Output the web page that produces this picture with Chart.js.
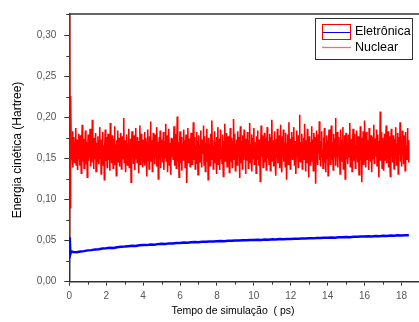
<!DOCTYPE html>
<html>
<head>
<meta charset="utf-8">
<script src="https://cdn.jsdelivr.net/npm/chart.js@4.4.1/dist/chart.umd.min.js"></script>
<style>
  html, body { margin: 0; padding: 0; background: #fff; }
  #wrap { width: 419px; height: 322px; position: relative; }
</style>
</head>
<body>
<div id="wrap"><canvas id="energyChart"></canvas></div>
<script>
// Nuclear kinetic energy: start-up transient, then samples every 0.025 ps from 0.1 ps
const nuclearStartT = [0, 0.01, 0.04, 0.07];
const nuclearStartE = [0.054, 0.36, 0.090, 0.226];
const nuclearT0 = 0.1;
const nuclearDt = 0.025;
const nuclearE = [
  0.171,0.148,0.162,0.183,0.139,0.157,0.176,0.151,0.144,0.169,0.187,0.142,0.160,0.173,0.136,0.158,0.180,0.149,0.165,0.141,
  0.178,0.155,0.132,0.168,0.191,0.146,0.159,0.174,0.138,0.163,0.150,0.184,0.143,0.170,0.156,0.127,0.166,0.179,0.147,0.161,
  0.152,0.186,0.140,0.172,0.158,0.145,0.197,0.153,0.167,0.137,0.175,0.149,0.162,0.181,0.134,0.169,0.155,0.146,0.177,0.160,
  0.143,0.170,0.188,0.150,0.164,0.131,0.173,0.157,0.182,0.141,0.166,0.154,0.124,0.168,0.185,0.147,0.159,0.176,0.139,0.163,
  0.180,0.148,0.156,0.171,0.135,0.193,0.152,0.165,0.144,0.178,0.161,0.138,0.174,0.157,0.189,0.142,0.167,0.150,0.129,0.172,
  0.158,0.184,0.146,0.163,0.175,0.140,0.169,0.154,0.181,0.137,0.160,0.177,0.149,0.166,0.199,0.145,0.156,0.172,0.133,0.164,
  0.151,0.179,0.142,0.168,0.157,0.186,0.139,0.162,0.148,0.174,0.121,0.165,0.183,0.153,0.170,0.144,0.159,0.178,0.136,0.167,
  0.187,0.150,0.161,0.145,0.176,0.158,0.132,0.171,0.164,0.190,0.143,0.155,0.180,0.147,0.168,0.139,0.173,0.160,0.152,0.182,
  0.141,0.166,0.175,0.154,0.128,0.169,0.185,0.148,0.162,0.137,0.177,0.157,0.195,0.146,0.163,0.172,0.134,0.159,0.181,0.150,
  0.168,0.143,0.179,0.156,0.165,0.140,0.188,0.153,0.170,0.125,0.161,0.176,0.149,0.184,0.138,0.167,0.155,0.173,0.145,0.160,
  0.182,0.136,0.164,0.171,0.151,0.192,0.147,0.158,0.178,0.133,0.166,0.154,0.186,0.142,0.169,0.160,0.130,0.175,0.152,0.163,
  0.174,0.149,0.157,0.189,0.141,0.167,0.155,0.180,0.138,0.162,0.201,0.146,0.170,0.153,0.127,0.165,0.183,0.144,0.158,0.176,
  0.135,0.169,0.160,0.148,0.185,0.156,0.172,0.139,0.163,0.179,0.150,0.120,0.168,0.187,0.145,0.161,0.174,0.152,0.140,0.166,
  0.181,0.157,0.143,0.170,0.164,0.194,0.148,0.159,0.176,0.137,0.165,0.153,0.182,0.144,0.171,0.130,0.162,0.178,0.150,0.167,
  0.146,0.184,0.158,0.139,0.173,0.155,0.166,0.190,0.142,0.160,0.177,0.134,0.169,0.152,0.186,0.147,0.163,0.124,0.175,0.156,
  0.168,0.141,0.180,0.161,0.149,0.196,0.154,0.172,0.137,0.165,0.158,0.183,0.145,0.170,0.151,0.131,0.176,0.162,0.188,0.143,
  0.159,0.174,0.136,0.167,0.185,0.150,0.163,0.144,0.179,0.156,0.128,0.171,0.160,0.192,0.147,0.166,0.153,0.181,0.140,0.164,
  0.177,0.152,0.169,0.133,0.161,0.187,0.146,0.175,0.158,0.139,0.172,0.165,0.198,0.149,0.162,0.180,0.135,0.168,0.155,0.173,
  0.142,0.183,0.160,0.151,0.176,0.126,0.166,0.189,0.144,0.171,0.157,0.137,0.178,0.163,0.148,0.185,0.154,0.169,0.131,0.174,
  0.160,0.147,0.182,0.165,0.138,0.172,0.156,0.193,0.145,0.168,0.152,0.179,0.134,0.161,0.175,0.150,0.187,0.143,0.164,0.157,
  0.170,0.132,0.177,0.159,0.184,0.148,0.166,0.141,0.173,0.155,0.122,0.167,0.190,0.152,0.163,0.178,0.139,0.169,0.158,0.181,
  0.145,0.164,0.175,0.136,0.160,0.188,0.150,0.171,0.157,0.143,0.180,0.162,0.135,0.176,0.154,0.197,0.147,0.165,0.172,0.140,
  0.166,0.183,0.151,0.158,0.129,0.174,0.162,0.186,0.144,0.169,0.155,0.178,0.138,0.165,0.191,0.149,0.160,0.133,0.177,0.153,
  0.185,0.146,0.163,0.170,0.140,0.181,0.157,0.124,0.168,0.152,0.179,0.143,0.194,0.159,0.166,0.137,0.174,0.150,0.182,0.161,
  0.148,0.176,0.155,0.188,0.142,0.164,0.171,0.131,0.160,0.184,0.153,0.167,0.139,0.178,0.147,0.203,0.156,0.170,0.145,0.163,
  0.180,0.137,0.168,0.154,0.175,0.149,0.192,0.158,0.134,0.172,0.161,0.144,0.186,0.152,0.165,0.127,0.177,0.159,0.170,0.141,
  0.162,0.189,0.146,0.173,0.156,0.135,0.181,0.164,0.150,0.176,0.119,0.167,0.184,0.153,0.160,0.142,0.179,0.157,0.195,0.148,
  0.171,0.140,0.166,0.183,0.152,0.161,0.138,0.175,0.158,0.187,0.145,0.169,0.133,0.164,0.178,0.150,0.172,0.129,0.167,0.185,
  0.154,0.177,0.143,0.163,0.190,0.148,0.170,0.156,0.136,0.180,0.162,0.151,0.174,0.199,0.141,0.166,0.157,0.182,0.139,0.168,
  0.176,0.153,0.160,0.131,0.185,0.164,0.146,0.172,0.158,0.188,0.137,0.167,0.155,0.178,0.125,0.163,0.181,0.149,0.170,0.157,
  0.143,0.179,0.165,0.152,0.193,0.140,0.169,0.159,0.174,0.134,0.162,0.186,0.147,0.171,0.155,0.180,0.138,0.166,0.151,0.184,
  0.160,0.145,0.177,0.168,0.130,0.173,0.156,0.189,0.148,0.164,0.121,0.175,0.158,0.183,0.142,0.169,0.196,0.153,0.165,0.139,
  0.182,0.157,0.149,0.172,0.163,0.136,0.187,0.154,0.170,0.146,0.178,0.161,0.133,0.176,0.167,0.150,0.191,0.144,0.159,0.174,
  0.152,0.168,0.185,0.141,0.162,0.179,0.155,0.127,0.171,0.160,0.207,0.147,0.166,0.182,0.138,0.175,0.157,0.164,0.135,0.180,
  0.165,0.148,0.173,0.190,0.144,0.169,0.156,0.183,0.139,0.161,0.177,0.151,0.128,0.170,0.186,0.153,0.167,0.145,0.178,0.158,
  0.137,0.174,0.163,0.150,0.188,0.142,0.168,0.159,0.181,0.131,0.166,0.176,0.154,0.194,0.146,0.172,0.160,0.140,0.184,0.156,
  0.170,0.143,0.178,0.161,0.135,0.182,0.157,0.166,0.149,0.187,0.153,0.172,0.145
];

// Electronic kinetic energy: start-up, then samples every 0.2 ps from 0.2 ps
const eletronicaStartT = [0, 0.03, 0.06, 0.1];
const eletronicaStartE = [0.054, 0.049, 0.034, 0.037];
const eletronicaT0 = 0.2;
const eletronicaDt = 0.2;
const eletronicaE = [
  0.0362,0.0357,0.0366,0.0372,0.0381,0.0384,0.0393,0.0394,0.0404,0.0406,
  0.0413,0.0410,0.0420,0.0424,0.0427,0.0431,0.0436,0.0434,0.0443,0.0446,
  0.0445,0.0452,0.0450,0.0457,0.0461,0.0459,0.0466,0.0464,0.0471,0.0472,
  0.0476,0.0473,0.0479,0.0482,0.0480,0.0486,0.0485,0.0490,0.0488,0.0493,
  0.0496,0.0493,0.0499,0.0497,0.0502,0.0500,0.0504,0.0503,0.0508,0.0506,
  0.0510,0.0508,0.0513,0.0511,0.0515,0.0513,0.0518,0.0516,0.0520,0.0519,
  0.0523,0.0521,0.0526,0.0525,0.0529,0.0527,0.0532,0.0531,0.0535,0.0534,
  0.0538,0.0536,0.0541,0.0540,0.0544,0.0542,0.0547,0.0546,0.0550,0.0549,
  0.0553,0.0551,0.0556,0.0554,0.0558,0.0557,0.0561,0.0559,0.0564,0.0563,
  0.0566,0.0565
];

const seriesNames = ['Eletrônica', 'Nuclear'];
const xTitle = 'Tempo de simulação  ( ps)';
const yTitle = 'Energia cinética (Hartree)';
const xTicksMajor = [0, 2, 4, 6, 8, 10, 12, 14, 16, 18];

function buildPoints(startT, startE, t0, dt, values) {
  const pts = startT.map((t, i) => ({ x: t, y: startE[i] }));
  values.forEach((v, i) => pts.push({ x: +(t0 + i * dt).toFixed(3), y: v }));
  return pts;
}

const FONT = '"Liberation Sans", Arial, sans-serif';
const AXIS = '#333333';

// Axis frame, minor ticks, titles and the legend box
const decorations = {
  id: 'decorations',
  afterDraw(chart) {
    const { ctx, chartArea: a, scales } = chart;
    const xs = scales.x, ys = scales.y;
    ctx.save();
    ctx.strokeStyle = AXIS;
    ctx.lineWidth = 1.5;
    ctx.beginPath();
    ctx.moveTo(a.left, a.top);
    ctx.lineTo(a.right, a.top);
    ctx.stroke();
    // minor ticks
    ctx.lineWidth = 1;
    ctx.beginPath();
    for (let v = 1; v <= 19; v += 2) {
      const px = Math.round(xs.getPixelForValue(v)) + 0.5;
      if (px > a.right) break;
      ctx.moveTo(px, a.bottom);
      ctx.lineTo(px, a.bottom + 3);
    }
    for (let v = 0.025; v < 0.33; v += 0.05) {
      const py = Math.round(ys.getPixelForValue(v)) + 0.5;
      ctx.moveTo(a.left, py);
      ctx.lineTo(a.left - 3, py);
    }
    ctx.stroke();
    // axis titles
    ctx.fillStyle = '#000';
    ctx.textAlign = 'center';
    ctx.textBaseline = 'middle';
    ctx.font = '10.5px ' + FONT;
    ctx.fillText(xTitle, 233, 311);
    ctx.save();
    ctx.translate(18, 150);
    ctx.rotate(-Math.PI / 2);
    ctx.font = '12px ' + FONT;
    ctx.fillText(yTitle, 0, 0);
    ctx.restore();
    // legend
    ctx.strokeStyle = AXIS;
    ctx.lineWidth = 1;
    ctx.strokeRect(315.5, 18.5, 97, 41);
    ctx.strokeStyle = '#ff0000';
    ctx.strokeRect(322.5, 24.5, 28, 15);
    ctx.strokeStyle = '#0000ff';
    ctx.beginPath();
    ctx.moveTo(323, 32.5);
    ctx.lineTo(350, 32.5);
    ctx.stroke();
    ctx.strokeStyle = '#f07070';
    ctx.lineWidth = 1.3;
    ctx.beginPath();
    ctx.moveTo(322, 47.5);
    ctx.lineTo(351, 47.5);
    ctx.stroke();
    ctx.fillStyle = '#000';
    ctx.textAlign = 'left';
    ctx.font = '12.5px ' + FONT;
    ctx.fillText(seriesNames[0], 355, 32);
    ctx.fillText(seriesNames[1], 355, 48);
    ctx.restore();
  }
};

const ctx = document.getElementById('energyChart').getContext('2d');

const energyChart = new Chart(ctx, {
  type: 'line',
  data: {
    datasets: [{
      label: seriesNames[0],
      data: buildPoints(eletronicaStartT, eletronicaStartE, eletronicaT0, eletronicaDt, eletronicaE),
      borderColor: '#0000ff',
      borderWidth: 2.5,
      pointRadius: 0
    }, {
      label: seriesNames[1],
      data: buildPoints(nuclearStartT, nuclearStartE, nuclearT0, nuclearDt, nuclearE),
      borderColor: '#ff0000',
      borderWidth: 1.6,
      pointRadius: 0
    }]
  },
  options: {
    responsive: true,
    maintainAspectRatio: false,
    animation: false,
    layout: { padding: { top: 14, right: 0, left: 0, bottom: 0 } },
    plugins: {
      legend: { display: false },
      tooltip: { enabled: false }
    },
    elements: { line: { tension: 0 } },
    scales: {
      x: {
        type: 'linear',
        min: 0,
        max: 18.95,
        afterFit: (s) => { s.height = 40.3; },
        afterBuildTicks: (s) => { s.ticks = xTicksMajor.map(v => ({ value: v })); },
        border: { display: true, color: AXIS, width: 1.5 },
        grid: { drawOnChartArea: false, drawTicks: true, tickLength: 4, color: AXIS },
        ticks: {
          color: '#555',
          padding: 5,
          maxRotation: 0,
          font: { family: FONT, size: 10 },
          callback: (v) => String(v)
        }
      },
      y: {
        min: 0,
        max: 0.3256,
        afterFit: (s) => { s.width = 69.3; },
        border: { display: true, color: AXIS, width: 1.5 },
        grid: { drawOnChartArea: false, drawTicks: true, tickLength: 5, color: AXIS },
        ticks: {
          stepSize: 0.05,
          includeBounds: false,
          color: '#555',
          padding: 8,
          font: { family: FONT, size: 10 },
          callback: (v) => v.toFixed(2).replace('.', ',')
        }
      }
    }
  },
  plugins: [decorations]
});
</script>
</body>
</html>
